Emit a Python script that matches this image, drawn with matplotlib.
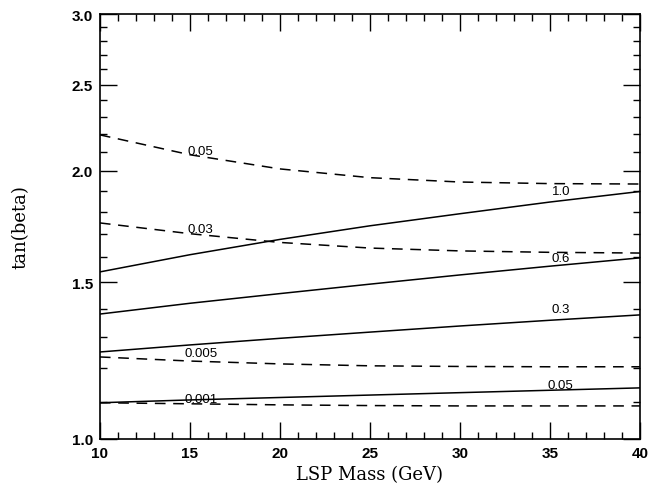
import matplotlib
matplotlib.use("Agg")
import matplotlib.pyplot as plt
import numpy as np
from matplotlib.ticker import FixedLocator, NullFormatter, FixedFormatter

mass = [10, 15, 20, 25, 30, 35, 40]

# solid curves
solid_labels = ["1.0", "0.6", "0.3", "0.05"]
solid_1p0 = [1.540, 1.610, 1.675, 1.735, 1.790, 1.845, 1.896]
solid_0p6 = [1.381, 1.420, 1.456, 1.492, 1.528, 1.563, 1.597]
solid_0p3 = [1.252, 1.275, 1.297, 1.318, 1.339, 1.359, 1.378]
solid_0p05 = [1.098, 1.106, 1.113, 1.120, 1.127, 1.134, 1.141]

# dashed curves
dashed_labels = ["0.05", "0.03", "0.005", "0.001"]
dashed_0p05 = [2.195, 2.085, 2.010, 1.965, 1.943, 1.935, 1.933]
dashed_0p03 = [1.748, 1.700, 1.662, 1.638, 1.626, 1.620, 1.617]
dashed_0p005 = [1.236, 1.223, 1.214, 1.208, 1.206, 1.205, 1.205]
dashed_0p001 = [1.098, 1.095, 1.092, 1.090, 1.089, 1.089, 1.089]

# label positions (x, y)
solid_label_pos = [(35.6, 1.90), (35.6, 1.597), (35.6, 1.40), (35.6, 1.15)]
dashed_label_pos = [(15.6, 2.105), (15.6, 1.72), (15.6, 1.249), (15.6, 1.109)]

fig = plt.figure(figsize=(6.57, 4.85), dpi=100)
ax = fig.add_axes([0.152, 0.093, 0.822, 0.876])

for ys in [solid_1p0, solid_0p6, solid_0p3, solid_0p05]:
    ax.plot(mass, ys, color="black", lw=1.1)
for ys in [dashed_0p05, dashed_0p03, dashed_0p005, dashed_0p001]:
    ax.plot(mass, ys, color="black", lw=1.1, dashes=(7, 5))

for lab, (x, y) in zip(solid_labels, solid_label_pos):
    ax.text(x, y, lab, fontsize=9.5, ha="center", va="center", family="Liberation Sans")
for lab, (x, y) in zip(dashed_labels, dashed_label_pos):
    ax.text(x, y, lab, fontsize=9.5, ha="center", va="center", family="Liberation Sans")

ax.set_yscale("log")
ax.set_xlim(10, 40)
ax.set_ylim(1.0, 3.0)

ymaj = [1.0, 1.5, 2.0, 2.5, 3.0]
ymin = [v / 10 for v in range(10, 31) if v % 5 != 0]
ax.yaxis.set_major_locator(FixedLocator(ymaj))
ax.yaxis.set_major_formatter(FixedFormatter(["1.0", "1.5", "2.0", "2.5", "3.0"]))
ax.yaxis.set_minor_locator(FixedLocator(ymin))
ax.yaxis.set_minor_formatter(NullFormatter())

ax.set_xticks([10, 15, 20, 25, 30, 35, 40])
ax.set_xticks(list(range(10, 41)), minor=True)

ax.tick_params(which="both", direction="in", top=True, right=True, width=1.0, color="black")
ax.tick_params(which="major", length=12, labelsize=11, pad=5)
ax.tick_params(which="minor", length=5)
for lab in ax.get_xticklabels() + ax.get_yticklabels():
    lab.set_family("Liberation Sans")
    lab.set_fontweight("bold")

for sp in ax.spines.values():
    sp.set_linewidth(1.2)

ax.set_xlabel("LSP Mass (GeV)", fontsize=13, family="DejaVu Serif")
ax.set_ylabel("tan(beta)", fontsize=13, family="DejaVu Serif")
ax.xaxis.set_label_coords(0.5, -0.062)
ax.yaxis.set_label_coords(-0.13, 0.5)

fig.savefig("out.png", dpi=100)
